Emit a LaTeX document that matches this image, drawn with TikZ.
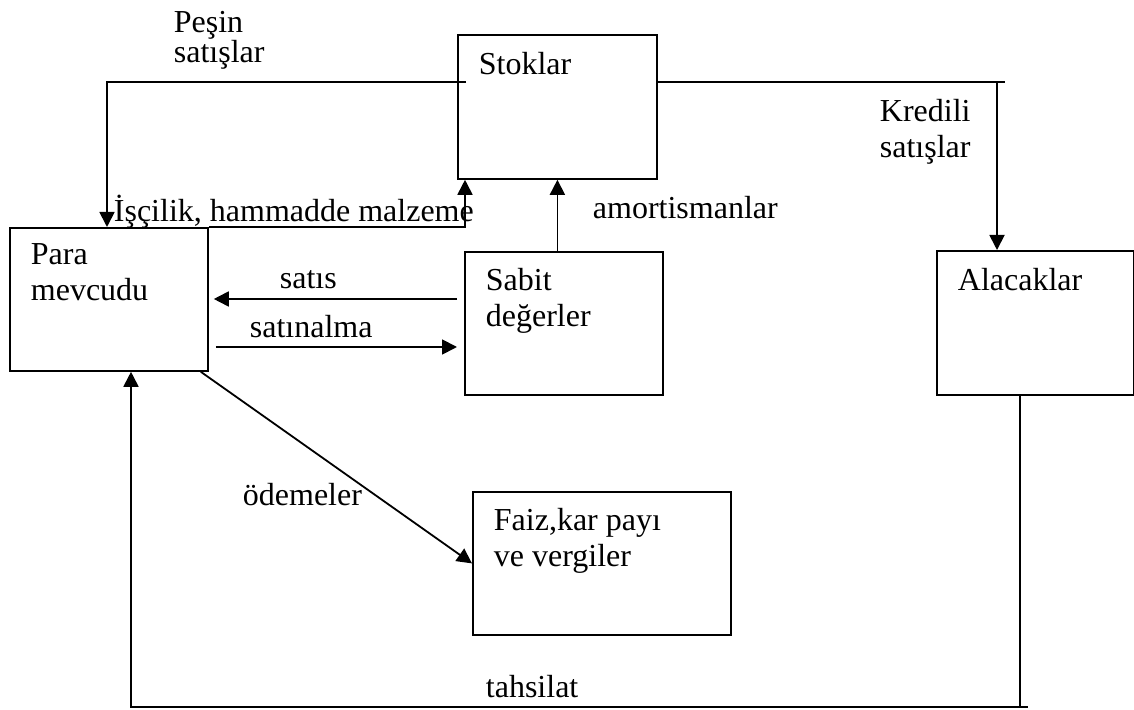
\documentclass[tikz,border=0pt]{standalone}
\usepackage{fontspec}
\setmainfont{Liberation Serif}
\usetikzlibrary{arrows.meta}
\begin{document}
\begin{tikzpicture}[x=0.5pt,y=-0.5pt,line width=0.9pt,>={Triangle[width=7.5pt,length=7.5pt]},kutu/.style={draw,anchor=north west,inner sep=0pt},yazi/.style={anchor=north west,inner sep=0pt,align=left,font=\fontsize{16}{18}\selectfont,execute at begin node=\rule{0pt}{12pt}}]
\useasboundingbox (0,0) rectangle (1134,710);
\foreach \n/\x/\y/\w/\h/\yaz in {stok/457/34/199/144/Stoklar,para/9/227/198/143/{Para\\mevcudu},sabit/464/251/198/143/{Sabit\\değerler},alacak/936/250/197/144/Alacaklar,faiz/472/491/258/143/{Faiz,kar payı\\ve vergiler}}{\node[kutu,minimum width=\w*0.5pt,minimum height=\h*0.5pt] (\n) at (\x,\y) {}; \node[yazi] (t\n) at ([shift={(21,16)}]\n.north west) {\yaz};};
\node[yazi] (lpesin) at (173,10) {Peşin\\[-3pt]satışlar};
\node[yazi] (liscilik) at (113,194) {İşçilik, hammadde malzeme};
\node[yazi] (lkredi) at (879,98) {Kredili\\satışlar};
\node[yazi] (lamor) at (592,194) {amortismanlar};
\node[yazi] (lsatis) at (279,264) {satıs};
\node[yazi] (lsatin) at (249,313) {satınalma};
\node[yazi] (lodeme) at (242,481) {ödemeler};
\node[yazi] (ltahsil) at (485,673) {tahsilat};
\coordinate (ps) at (107,82);
\coordinate (is) at (465,227);
\coordinate (kr) at (997,82);
\coordinate (th) at (1020,707);
\coordinate (tl) at (131,707);
\coordinate (st) at (0,299);
\coordinate (sa) at (0,347);
\draw[->] ([xshift=4.5pt]stok.west |- ps) -- (ps) -- (para.north -| ps);
\draw[->] (para.north east) -- (is) -- (stok.south -| is);
\draw (stok.east |- kr) -- ([xshift=4pt]kr);
\draw[->] (kr) -- (alacak.north -| kr);
\draw[->] (sabit.north -| stok.south) -- (stok.south);
\draw[->,shorten <=3.5pt,shorten >=2.5pt] (sabit.west |- st) -- (para.east |- st);
\draw[->,shorten <=3.5pt,shorten >=3.5pt] (para.east |- sa) -- (sabit.west |- sa);
\draw[->] ([xshift=-4pt]para.south east) -- (faiz.west);
\draw[->] (alacak.south -| th) -- (th) -- (tl) -- (para.south -| tl);
\draw (th) -- ++(8,0);
\end{tikzpicture}
\end{document}
